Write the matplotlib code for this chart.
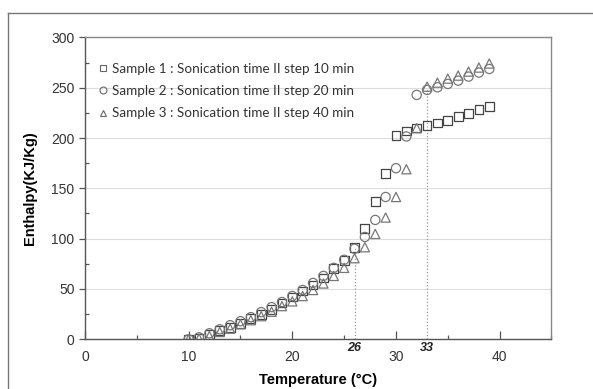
import numpy as np
import matplotlib
matplotlib.use('Agg')
import matplotlib.pyplot as plt
from matplotlib.lines import Line2D
from matplotlib.ticker import MultipleLocator

temp = list(range(10, 40))

# Sample 1 : 10 min
s1 = [0, 1, 5, 8.5, 12, 16, 20.5, 25, 30, 36, 42, 48, 54, 61, 70, 78, 91, 110, 137, 165,
      202.5, 207, 210, 212.7, 215, 217.7, 221, 224.6, 228, 231.6]
# Sample 2 : 20 min
s2 = [0, 2, 6, 10, 14, 18, 22, 27, 32, 37, 43, 49, 56, 63, 71, 79, 90, 101.7, 118.6, 141.4,
      170, 201.5, 242.8, 247.8, 250.4, 253.7, 257, 261, 265, 268.6]
# Sample 3 : 40 min
s3 = [0, 0.7, 3.3, 7.3, 10.6, 15, 19, 23, 27.4, 33, 37.7, 43, 49, 55.5, 63, 71, 80.6, 91.5, 104.7, 121,
      141.4, 169, 209.8, 251, 255, 259, 262, 266, 270, 274]

labels = ['Sample 1 : Sonication time II step 10 min',
          'Sample 2 : Sonication time II step 20 min',
          'Sample 3 : Sonication time II step 40 min']

mark_x = [26, 33]
mark_top = [91, 250]

plt.rcParams['font.family'] = ['Liberation Sans', 'DejaVu Sans']

fig = plt.figure(figsize=(5.93, 3.89), dpi=100)
ax = fig.add_axes([0.1433, 0.1277, 0.7867, 0.7763])

ax.scatter(temp, s1, marker='s', s=40, facecolors='none', edgecolors='#444444', linewidths=0.9, zorder=3)
ax.scatter(temp, s2, marker='o', s=44, facecolors='none', edgecolors='#777777', linewidths=0.9, zorder=3)
ax.scatter(temp, s3, marker='^', s=44, facecolors='none', edgecolors='#777777', linewidths=0.9, zorder=3)

ax.vlines(mark_x, 0, mark_top, colors='#999999', linestyles=':', linewidth=0.9, zorder=2)
for xv in mark_x:
    ax.text(xv, -3, str(xv), ha='center', va='top', fontsize=9,
            fontweight='bold', fontstyle='italic', color='#222222')

ax.set_xlim(0, 45)
ax.set_ylim(0, 300)
ax.set_xticks([0, 10, 20, 30, 40])
ax.set_yticks(range(0, 301, 50))
ax.xaxis.set_minor_locator(MultipleLocator(5))
ax.yaxis.set_minor_locator(MultipleLocator(25))
ax.tick_params(axis='x', which='major', direction='in', length=6, width=0.9, color='#555555',
               labelsize=10, labelcolor='#333333', pad=8)
ax.tick_params(axis='x', which='minor', direction='in', length=3, width=0.9, color='#555555')
ax.tick_params(axis='y', which='major', direction='out', length=4, width=0.9, color='#555555',
               labelsize=10, labelcolor='#333333')
ax.tick_params(axis='y', which='minor', direction='in', length=3, width=0.9, color='#555555')

ax.yaxis.grid(True, color='#dddddd', linewidth=0.8)
ax.set_axisbelow(True)
for side in ['left', 'bottom']:
    ax.spines[side].set_color('#555555')
    ax.spines[side].set_linewidth(1.0)
for side in ['top', 'right']:
    ax.spines[side].set_color('#888888')
    ax.spines[side].set_linewidth(1.0)

ax.set_xlabel('Temperature (°C)', fontsize=10.5, fontweight='bold', labelpad=6)
ax.set_ylabel('Enthalpy(KJ/Kg)', fontsize=10.5, fontweight='bold', labelpad=10)

handles = [Line2D([], [], linestyle='none', marker=m, markersize=5, markerfacecolor='none',
                  markeredgecolor='#666666', markeredgewidth=0.8) for m in ['s', 'o', '^']]
leg = ax.legend(handles, labels, loc='upper left', bbox_to_anchor=(-0.005, 0.955), frameon=False,
                prop={'family': 'Lato', 'size': 9.7}, handletextpad=0.1, handlelength=1.2,
                labelspacing=0.75)
for t in leg.get_texts():
    t.set_color('#333333')

# outer frame of the picture
fig.add_artist(Line2D([7.5 / 593, 1.01], [1 - 12.5 / 389] * 2, color='#777777', linewidth=1.0))
fig.add_artist(Line2D([7.5 / 593] * 2, [-0.01, 1 - 12.5 / 389], color='#777777', linewidth=1.0))

fig.savefig('out.png', dpi=100)
